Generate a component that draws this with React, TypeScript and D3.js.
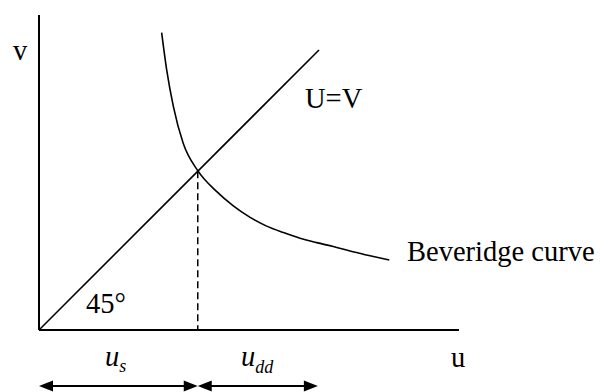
import React from "react";
import * as d3 from "d3";

// Beveridge curve points (u, v)
const curveU = [4.38, 4.56, 4.8, 5.15, 5.67, 6.35, 6.94, 7.54, 8.13, 8.73, 9.32, 9.92, 10.51, 11.11, 11.7, 12.51];
const curveV = [10.62, 9.29, 7.98, 6.67, 5.69, 4.94, 4.43, 4.02, 3.71, 3.48, 3.28, 3.12, 2.98, 2.82, 2.68, 2.5];

// 45 degree line U=V
const diagU = [0, 10];

// equilibrium u and span of the bottom arrows
const uStar = 5.67;
const arrowSpans = [
  [0, uStar],
  [uStar, 9.96],
];
const arrowV = -2;

const width = 600;
const height = 392;

const x = d3.scaleLinear().domain([0, 15]).range([39, 459]);
const y = d3.scaleLinear().domain([0, 11.25]).range([330, 15]);

const font = "'Liberation Serif', 'Times New Roman', serif";

const App = () => {
  const line = d3
    .line<[number, number]>()
    .x((d) => x(d[0]))
    .y((d) => y(d[1]));

  const bev = line.curve(d3.curveMonotoneX)(
    curveU.map((u, i) => [u, curveV[i]] as [number, number])
  );
  const diag = d3.line<number>().x((d) => x(d)).y((d) => y(d))(diagU);

  const head = (px: number, py: number, dir: number) => {
    const len = 14;
    const half = 5.5;
    return `M${px},${py}L${px - dir * len},${py - half}L${px - dir * len},${py + half}Z`;
  };

  return (
    <svg
      width={width}
      height={height}
      style={{ position: "absolute", left: 0, top: 0, background: "#fff" }}
    >
      {/* axes */}
      <line x1={x(0)} x2={x(0)} y1={y(0)} y2={y(11.25)} stroke="#000" strokeWidth={2} />
      <line x1={x(0)} x2={x(15)} y1={y(0)} y2={y(0)} stroke="#000" strokeWidth={2} />

      <path d={diag || ""} fill="none" stroke="#000" strokeWidth={1.6} />
      <path d={bev || ""} fill="none" stroke="#000" strokeWidth={1.6} />

      <line
        x1={x(uStar)}
        x2={x(uStar)}
        y1={y(uStar)}
        y2={y(0)}
        stroke="#000"
        strokeWidth={1.5}
        strokeDasharray="7,4"
      />

      {arrowSpans.map(([a, b], i) => (
        <g key={i}>
          <line x1={x(a) + 10} x2={x(b) - 10} y1={y(arrowV)} y2={y(arrowV)} stroke="#000" strokeWidth={2} />
          <path d={head(x(a), y(arrowV), -1)} fill="#000" />
          <path d={head(x(b), y(arrowV), 1)} fill="#000" />
        </g>
      ))}

      <g fontFamily={font} fontSize={28.5} fill="#000">
        <text x={13} y={60}>v</text>
        <text x={305} y={108}>U=V</text>
        <text x={407} y={261}>Beveridge curve</text>
        <text x={86} y={313}>45°</text>
        <text x={451} y={367}>u</text>
        <text x={105} y={366} fontStyle="italic">
          u<tspan fontSize={18} dy={6}>s</tspan>
        </text>
        <text x={241} y={366} fontStyle="italic">
          u<tspan fontSize={18} dy={7}>dd</tspan>
        </text>
      </g>
    </svg>
  );
};

export default App;
